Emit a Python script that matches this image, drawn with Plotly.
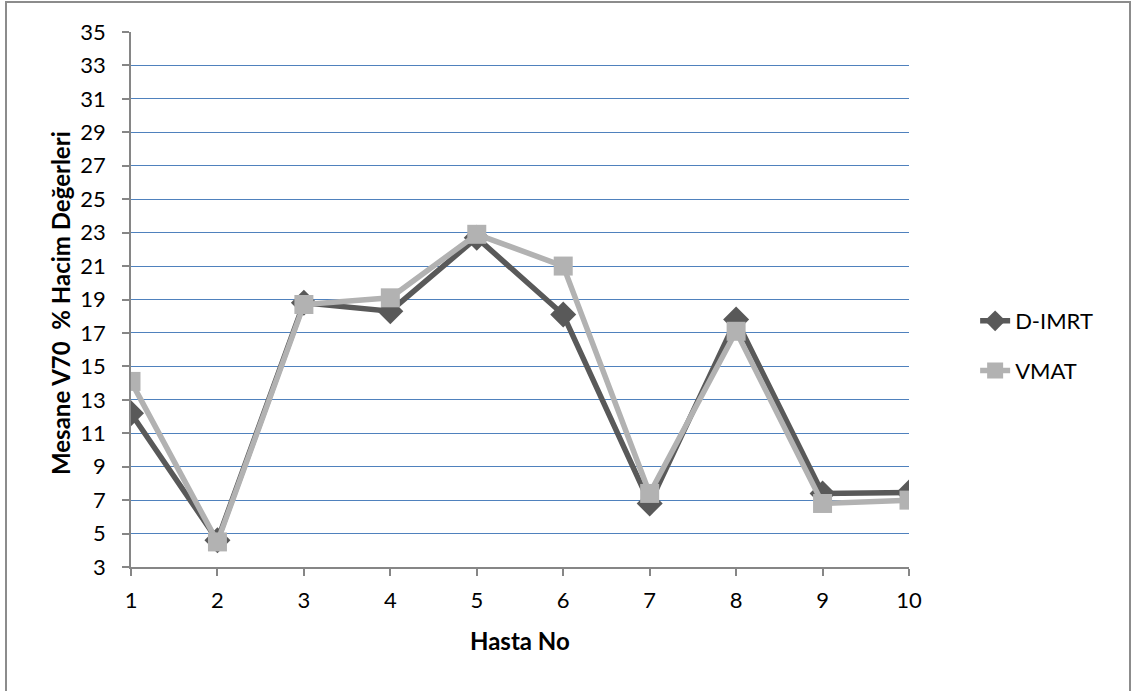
import plotly.graph_objects as go

hasta_no = [1, 2, 3, 4, 5, 6, 7, 8, 9, 10]
d_imrt = [12.2, 4.6, 18.8, 18.3, 22.7, 18.1, 6.8, 17.8, 7.4, 7.45]
vmat = [14.1, 4.5, 18.7, 19.1, 22.9, 21.0, 7.4, 17.1, 6.8, 7.0]
y_ticks = list(range(3, 36, 2))

FONT = "Lato, 'Open Sans', sans-serif"

fig = go.Figure()
fig.add_trace(go.Scatter(
    x=hasta_no, y=d_imrt, name="D-IMRT", mode="lines+markers",
    line=dict(color="#595959", width=5.5),
    marker=dict(symbol="diamond", size=20, color="#595959"),
    legendgroup="a",
))
fig.add_trace(go.Scatter(
    x=hasta_no, y=vmat, name="VMAT", mode="lines+markers",
    line=dict(color="#B2B2B2", width=5.5),
    marker=dict(symbol="square", size=19, color="#B2B2B2"),
    legendgroup="b",
))

fig.update_layout(
    width=1133, height=691,
    margin=dict(l=131, r=224, t=32, b=124),
    paper_bgcolor="white", plot_bgcolor="white",
    font=dict(family=FONT, size=22, color="black"),
    showlegend=True,
    legend=dict(x=1.085, y=0.413, xanchor="left", yanchor="middle",
                font=dict(size=22), tracegroupgap=18,
                bgcolor="rgba(0,0,0,0)"),
    xaxis=dict(
        range=[1, 10], tickvals=hasta_no, showgrid=False,
        showline=True, linecolor="#868686", linewidth=1.5,
        ticks="outside", ticklen=7, tickcolor="#868686", tickwidth=1.5,
        zeroline=False, tickfont=dict(size=22), ticklabelstandoff=6,
    ),
    yaxis=dict(
        range=[3, 35], tickvals=y_ticks, showgrid=True,
        gridcolor="#4F81BD", gridwidth=1.2,
        showline=True, linecolor="#868686", linewidth=1.5,
        ticks="outside", ticklen=7, tickcolor="#868686", tickwidth=1.5,
        zeroline=False, tickfont=dict(size=22), ticklabelstandoff=12,
    ),
    shapes=[dict(
        type="rect", xref="paper", yref="paper",
        x0=(6 - 131) / 778, x1=(1130 - 131) / 778,
        y0=(567 - 720) / 535, y1=(567 - 2) / 535,
        line=dict(color="#8C8C8C", width=2), fillcolor="rgba(0,0,0,0)",
        layer="below",
    )],
    annotations=[
        dict(text="<b>Hasta No</b>", xref="paper", yref="paper",
             x=(520 - 131) / 778, y=(567 - 641) / 535,
             xanchor="center", yanchor="middle", showarrow=False,
             font=dict(size=24)),
        dict(text="<b>Mesane V70  % Hacim Değerleri</b>", xref="paper", yref="paper",
             x=(60 - 131) / 778, y=(567 - 303) / 535, textangle=-90,
             xanchor="center", yanchor="middle", showarrow=False,
             font=dict(size=24)),
    ],
)

fig.write_html("out.html")
